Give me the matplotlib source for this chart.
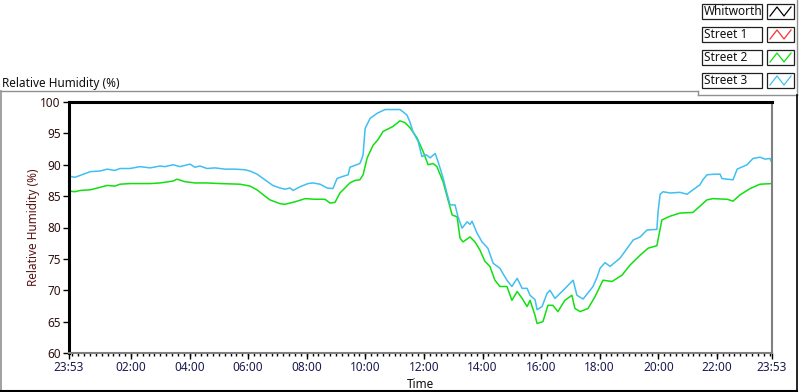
import matplotlib
matplotlib.use("Agg")
import matplotlib.pyplot as plt
from matplotlib.patches import Rectangle
from matplotlib.lines import Line2D

# ---------------- data (hours since 23:53) ----------------
street3_h = [0.00, 0.20, 0.38, 0.72, 1.06, 1.30, 1.57, 1.74, 2.08, 2.42, 2.77, 3.11, 3.28, 3.55,
             3.79, 4.13, 4.30, 4.47, 4.71, 4.98, 5.33, 5.67, 6.01, 6.18, 6.42, 6.69, 6.96, 7.20,
             7.37, 7.55, 7.65, 7.89, 8.16, 8.33, 8.57, 8.81, 9.01, 9.15, 9.32, 9.53, 9.59, 9.76,
             9.93, 10.00, 10.04, 10.11, 10.28, 10.52, 10.79, 11.30, 11.44, 11.54, 11.64, 11.74,
             11.92, 12.05, 12.19, 12.33, 12.50, 12.60, 12.77, 12.90, 13.01, 13.18, 13.28, 13.42,
             13.59, 13.69, 13.76, 13.93, 14.10, 14.30, 14.48, 14.71, 14.95, 15.12, 15.30, 15.47,
             15.64, 15.74, 15.91, 15.98, 16.15, 16.32, 16.42, 16.59, 16.83, 17.00, 17.21, 17.34,
             17.55, 17.79, 17.89, 18.03, 18.13, 18.30, 18.47, 18.81, 19.26, 19.50, 19.73, 20.07,
             20.11, 20.18, 20.28, 20.52, 20.86, 21.10, 21.30, 21.54, 21.64, 21.78, 22.05, 22.23,
             22.29, 22.47, 22.67, 22.81, 23.15, 23.35, 23.59, 23.76, 23.93, 24.00]
street3_v = [88.2, 88.0, 88.3, 88.9, 89.0, 89.3, 89.1, 89.4, 89.4, 89.7, 89.5, 89.8, 89.7, 90.0,
             89.7, 90.1, 89.6, 89.8, 89.4, 89.5, 89.3, 89.3, 89.2, 89.0, 88.5, 87.6, 86.7, 86.3,
             86.1, 86.3, 85.9, 86.5, 87.0, 87.1, 86.9, 86.3, 86.2, 87.8, 88.1, 88.4, 89.6, 89.9,
             90.2, 91.0, 91.6, 95.8, 97.4, 98.2, 98.8, 98.8, 98.3, 97.9, 96.8, 95.3,
             93.7, 91.3, 91.6, 91.1, 91.8, 90.5, 87.9, 85.5, 83.6, 83.6, 81.7, 79.9,
             80.9, 80.5, 81.0, 79.1, 77.7, 76.7, 74.3, 73.5, 71.6, 70.6, 71.9, 70.3,
             70.3, 69.2, 68.5, 66.9, 67.4, 69.5, 70.0, 68.7, 69.8, 70.6, 71.6, 69.2,
             68.6, 70.0, 70.6, 72.1, 73.5, 74.4, 73.8, 75.1, 78.0, 78.5, 79.6, 79.7,
             82.5, 85.3, 85.7, 85.5, 85.6, 85.3, 86.0, 86.8, 87.6, 88.4, 88.5, 88.5,
             87.8, 87.7, 87.6, 89.3, 90.0, 91.0, 91.2, 90.9, 91.0, 90.3]

street2_h = [0.00, 0.20, 0.38, 0.72, 1.06, 1.30, 1.57, 1.74, 2.08, 2.42, 2.77, 3.11, 3.55, 3.69,
             3.96, 4.30, 4.71, 5.16, 5.84, 6.18, 6.42, 6.69, 6.86, 7.20, 7.37, 7.72, 8.06, 8.40,
             8.74, 8.91, 9.08, 9.25, 9.42, 9.59, 9.76, 9.93, 10.04, 10.18, 10.38, 10.55, 10.72,
             11.06, 11.30, 11.47, 11.64, 11.88, 12.09, 12.26, 12.43, 12.56, 12.77, 12.94, 13.08,
             13.25, 13.35, 13.45, 13.69, 13.86, 14.03, 14.20, 14.37, 14.54, 14.71, 14.95, 15.12,
             15.30, 15.47, 15.64, 15.74, 15.91, 15.98, 16.18, 16.35, 16.52, 16.69, 16.93, 17.17,
             17.27, 17.45, 17.72, 17.96, 18.23, 18.54, 18.88, 19.15, 19.50, 19.77, 20.07, 20.24,
             20.52, 20.86, 21.30, 21.54, 21.78, 21.98, 22.47, 22.67, 22.91, 23.25, 23.59, 24.00]
street2_v = [85.8, 85.7, 85.9, 86.0, 86.4, 86.7, 86.6, 86.9, 87.0, 87.0, 87.0, 87.1, 87.4, 87.7,
             87.3, 87.1, 87.1, 87.0, 86.9, 86.6, 86.0, 85.0, 84.4, 83.8, 83.7, 84.1, 84.6, 84.5,
             84.5, 83.9, 84.0, 85.5, 86.3, 87.1, 87.5, 87.6, 88.4, 91.1, 93.1, 94.0, 95.3,
             96.1, 97.0, 96.7, 95.9, 94.3, 92.1, 90.0, 90.2, 89.7, 87.3, 84.4, 82.0,
             81.7, 78.3, 77.7, 78.5, 77.7, 76.4, 74.6, 73.8, 71.6, 70.6, 70.6, 68.4,
             69.8, 68.7, 67.4, 68.4, 66.0, 64.7, 65.0, 67.6, 67.6, 66.6, 68.4, 69.2,
             67.1, 66.6, 67.1, 69.0, 71.6, 71.4, 72.4, 74.0, 75.6, 76.7, 77.1, 81.2,
             81.8, 82.3, 82.4, 83.4, 84.4, 84.6, 84.5, 84.2, 85.2, 86.2, 86.9, 87.0]

legend_names = ["Whitworth", "Street 1", "Street 2", "Street 3"]
legend_colors = ["#000000", "#ff3030", "#10e010", "#40bff0"]

x_tick_pos = [0.0, 2.117, 4.117, 6.117, 8.117, 10.117, 12.117, 14.117, 16.117,
              18.117, 20.117, 22.117, 24.0]
x_tick_labels = ["23:53", "02:00", "04:00", "06:00", "08:00", "10:00", "12:00",
                 "14:00", "16:00", "18:00", "20:00", "22:00", "23:53"]
y_ticks = [60, 65, 70, 75, 80, 85, 90, 95, 100]

# ---------------- figure ----------------
W, H = 800, 392
plt.rcParams['font.family'] = ['Noto Sans', 'DejaVu Sans']
fig = plt.figure(figsize=(W / 100, H / 100), dpi=100)
fig.patch.set_facecolor("white")

def fx(x):
    return x / W

def fy(y):
    return 1 - y / H

L, R, T, B = 69, 772, 102, 353
ax = fig.add_axes([fx(L), fy(B), fx(R) - fx(L), fy(T) - fy(B)])
ax.set_facecolor("white")

ax.plot(street2_h, street2_v, color=legend_colors[2], lw=1.1)
ax.plot(street3_h, street3_v, color=legend_colors[3], lw=1.1)

ax.set_xlim(0, 24)
ax.set_ylim(60, 100)
ax.set_xticks(x_tick_pos)
ax.set_xticklabels(x_tick_labels)
minor = [7 / 60 + 0.2 * k for k in range(0, 120) if 7 / 60 + 0.2 * k < 24]
ax.set_xticks(minor, minor=True)
ax.set_yticks(y_ticks)

for s in ["top", "left"]:
    ax.spines[s].set_color("black")
    ax.spines[s].set_linewidth(2.2)
for s in ["right", "bottom"]:
    ax.spines[s].set_color("#808080")
    ax.spines[s].set_linewidth(1.5)

ax.tick_params(axis="x", which="major", direction="out", length=4, width=1,
               color="black", labelsize=8.5, labelcolor="#1a1a50", pad=2)
ax.tick_params(axis="x", which="minor", direction="out", length=2.5, width=1, color="black")
ax.tick_params(axis="y", which="major", direction="out", length=4, width=1,
               color="black", labelsize=8.5, labelcolor="#301010", pad=2)

ax.set_xlabel("Time", fontsize=8.5, color="#101010", labelpad=2.5)
ax.set_ylabel("Relative Humidity (%)", fontsize=8.5, color="#5a1414", labelpad=0)

fig.text(fx(2), fy(83), "Relative Humidity (%)", fontsize=8.5, color="#101010",
         ha="left", va="center")

# outer frame lines
def fline(x0, y0, x1, y1, color, lw):
    fig.add_artist(Line2D([fx(x0), fx(x1)], [fy(y0), fy(y1)], color=color, lw=lw,
                          transform=fig.transFigure))

fline(1, 91, 698, 91, "#909090", 1)
fline(698, 91, 698, 95, "#909090", 1)
fline(698, 95, 797, 95, "#909090", 1)
fline(797, 0, 797, 95, "#909090", 1)
fline(1, 91, 1, 391, "#909090", 1.2)
fline(797, 95, 797, 391, "black", 1.2)
fline(1, 390.5, 797, 390.5, "black", 1.5)

# legend
for i, (name, col) in enumerate(zip(legend_names, legend_colors)):
    y0 = 4 + 23 * i
    y1 = y0 + 15
    fig.add_artist(Rectangle((fx(702), fy(y1)), fx(762) - fx(702), fy(y0) - fy(y1),
                             fill=True, facecolor="white", edgecolor="#202020", lw=0.9,
                             transform=fig.transFigure))
    fig.text(fx(704), fy((y0 + y1) / 2), name, fontsize=8.5, color="#101010",
             ha="left", va="center")
    fig.add_artist(Rectangle((fx(767), fy(y1)), fx(794) - fx(767), fy(y0) - fy(y1),
                             fill=True, facecolor="white", edgecolor="#202020", lw=0.9,
                             transform=fig.transFigure))
    zx = [770, 777, 784, 791]
    zy = [y1 - 3, y0 + 3, y1 - 3, y0 + 3]
    fig.add_artist(Line2D([fx(v) for v in zx], [fy(v) for v in zy], color=col, lw=0.9,
                          transform=fig.transFigure))

fig.savefig("out.png", dpi=100, facecolor="white")
